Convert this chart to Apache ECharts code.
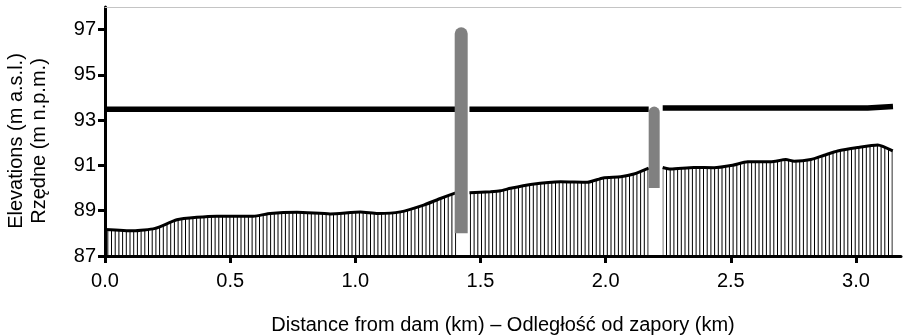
<!DOCTYPE html>
<html>
<head>
<meta charset="utf-8">
<script src="https://cdn.jsdelivr.net/npm/echarts@6/dist/echarts.min.js"></script>
<style>
  html, body { margin: 0; padding: 0; background: #fff; }
  #chart { width: 903px; height: 335px; }
</style>
</head>
<body>
<div id="chart"></div>
<script>
// river bed profile (km from dam, m a.s.l.); null = break at the weirs
const profileKm = [0.0, 0.113, 0.2, 0.287, 0.367, 0.447, 0.593, 0.66, 0.767, 0.9, 1.02, 1.09, 1.18, 1.273, 1.34, 1.404,
    1.42,
    1.456, 1.54, 1.58, 1.62, 1.70, 1.82, 1.927, 1.99, 2.06, 2.113, 2.172,
    2.19,
    2.228, 2.26, 2.353, 2.433, 2.507, 2.567, 2.66, 2.72, 2.753, 2.82, 2.873, 2.927, 3.007, 3.087, 3.147];
const profileElev = [88.17, 88.11, 88.22, 88.6, 88.71, 88.76, 88.76, 88.88, 88.93, 88.86, 88.94, 88.88, 88.95, 89.25, 89.54, 89.8,
    null,
    89.79, 89.84, 89.88, 89.99, 90.16, 90.28, 90.26, 90.45, 90.5, 90.62, 90.88,
    null,
    90.91, 90.84, 90.91, 90.9, 91.01, 91.16, 91.16, 91.26, 91.19, 91.26, 91.45, 91.64, 91.79, 91.9, 91.64];

// water surface
const waterKm = [0.0, 1.404, 1.42, 1.456, 2.172, 2.19, 2.228, 3.047, 3.05, 3.148];
const waterElev = [93.48, 93.48, null, 93.48, 93.48, null, 93.54, 93.54, 93.6, 93.6];

// weirs
const weirKm = [1.423, 2.194];
const weirTop = [97.1, 93.6];
const weirBottom = [88.0, 90.0];

const xTicks = [0, 0.5, 1.0, 1.5, 2.0, 2.5, 3.0];
const yTicks = [87, 89, 91, 93, 95, 97];

const FONT = "Liberation Sans, Arial, sans-serif";

function pairs(xs, ys) {
    return xs.map((x, i) => [x, ys[i] === null ? "-" : ys[i]]);
}

// vertical hatching under the bed line, ~3.7px apart
function hatch() {
    const c = document.createElement("canvas");
    c.width = 37;
    c.height = 10;
    const ctx = c.getContext("2d");
    ctx.fillStyle = "#000";
    for (let i = 0; i < 10; i++) ctx.fillRect(i * 3.7, 0, 1, 10);
    return c;
}

const chart = echarts.init(document.getElementById("chart"), null, { renderer: "canvas" });

const weirWidth = [13, 11];

chart.setOption({
    animation: false,
    grid: { left: 105, right: 2, top: 7, bottom: 79, outerBoundsMode: "none", containLabel: false },
    xAxis: [{
        type: "value",
        min: 0,
        max: 3.18,
        axisLine: { lineStyle: { color: "#000", width: 3 } },
        axisTick: { length: 7, lineStyle: { color: "#000", width: 3 }, customValues: xTicks },
        axisLabel: {
            customValues: xTicks,
            formatter: (v) => v.toFixed(1),
            color: "#000", fontSize: 20, fontFamily: FONT, margin: 15
        },
        splitLine: { show: false },
        name: "Distance from dam (km) – Odległość od zapory (km)",
        nameLocation: "middle",
        nameGap: 59,
        nameTextStyle: { color: "#000", fontSize: 20, fontFamily: FONT }
    }, {
        type: "value",
        position: "top",
        min: 0,
        max: 3.18,
        axisLine: { show: true, lineStyle: { color: "#c4c4c4", width: 1 } },
        axisTick: { show: false },
        axisLabel: { show: false },
        splitLine: { show: false }
    }],
    yAxis: {
        type: "value",
        min: 87,
        max: 98,
        axisLine: { show: true, lineStyle: { color: "#000", width: 3 } },
        axisTick: { show: true, length: 7, lineStyle: { color: "#000", width: 3 }, customValues: yTicks },
        axisLabel: {
            customValues: yTicks,
            color: "#000", fontSize: 20, fontFamily: FONT, margin: 9
        },
        splitLine: { show: false }
    },
    graphic: [
        {
            type: "text", x: 16, y: 141, rotation: Math.PI / 2,
            style: { text: "Elevations (m a.s.l.)", fill: "#000", font: "20px " + FONT, align: "center", verticalAlign: "middle" }
        },
        {
            type: "text", x: 39, y: 141, rotation: Math.PI / 2,
            style: { text: "Rzędne (m n.p.m.)", fill: "#000", font: "20px " + FONT, align: "center", verticalAlign: "middle" }
        }
    ],
    series: [
        {
            name: "bed",
            type: "line",
            data: pairs(profileKm, profileElev),
            showSymbol: false,
            symbol: "none",
            smooth: 0.2,
            connectNulls: false,
            lineStyle: { color: "#000", width: 3 },
            areaStyle: { origin: "start", color: { image: hatch(), repeat: "repeat" }, opacity: 1 },
            z: 3
        },
        {
            name: "water",
            type: "line",
            data: pairs(waterKm, waterElev),
            showSymbol: false,
            symbol: "none",
            connectNulls: false,
            lineStyle: { color: "#000", width: 5.5 },
            z: 4
        },
        {
            name: "weirs",
            type: "custom",
            data: weirKm.map((k, i) => [k, weirBottom[i], weirTop[i]]),
            renderItem: (params, api) => {
                const top = api.coord([api.value(0), api.value(2)]);
                const bot = api.coord([api.value(0), api.value(1)]);
                const w = weirWidth[params.dataIndex];
                return {
                    type: "rect",
                    shape: { x: top[0] - w / 2, y: top[1], width: w, height: bot[1] - top[1], r: [w / 2, w / 2, 0, 0] },
                    style: { fill: "#808080" }
                };
            },
            z: 5
        }
    ]
});
</script>
</body>
</html>
